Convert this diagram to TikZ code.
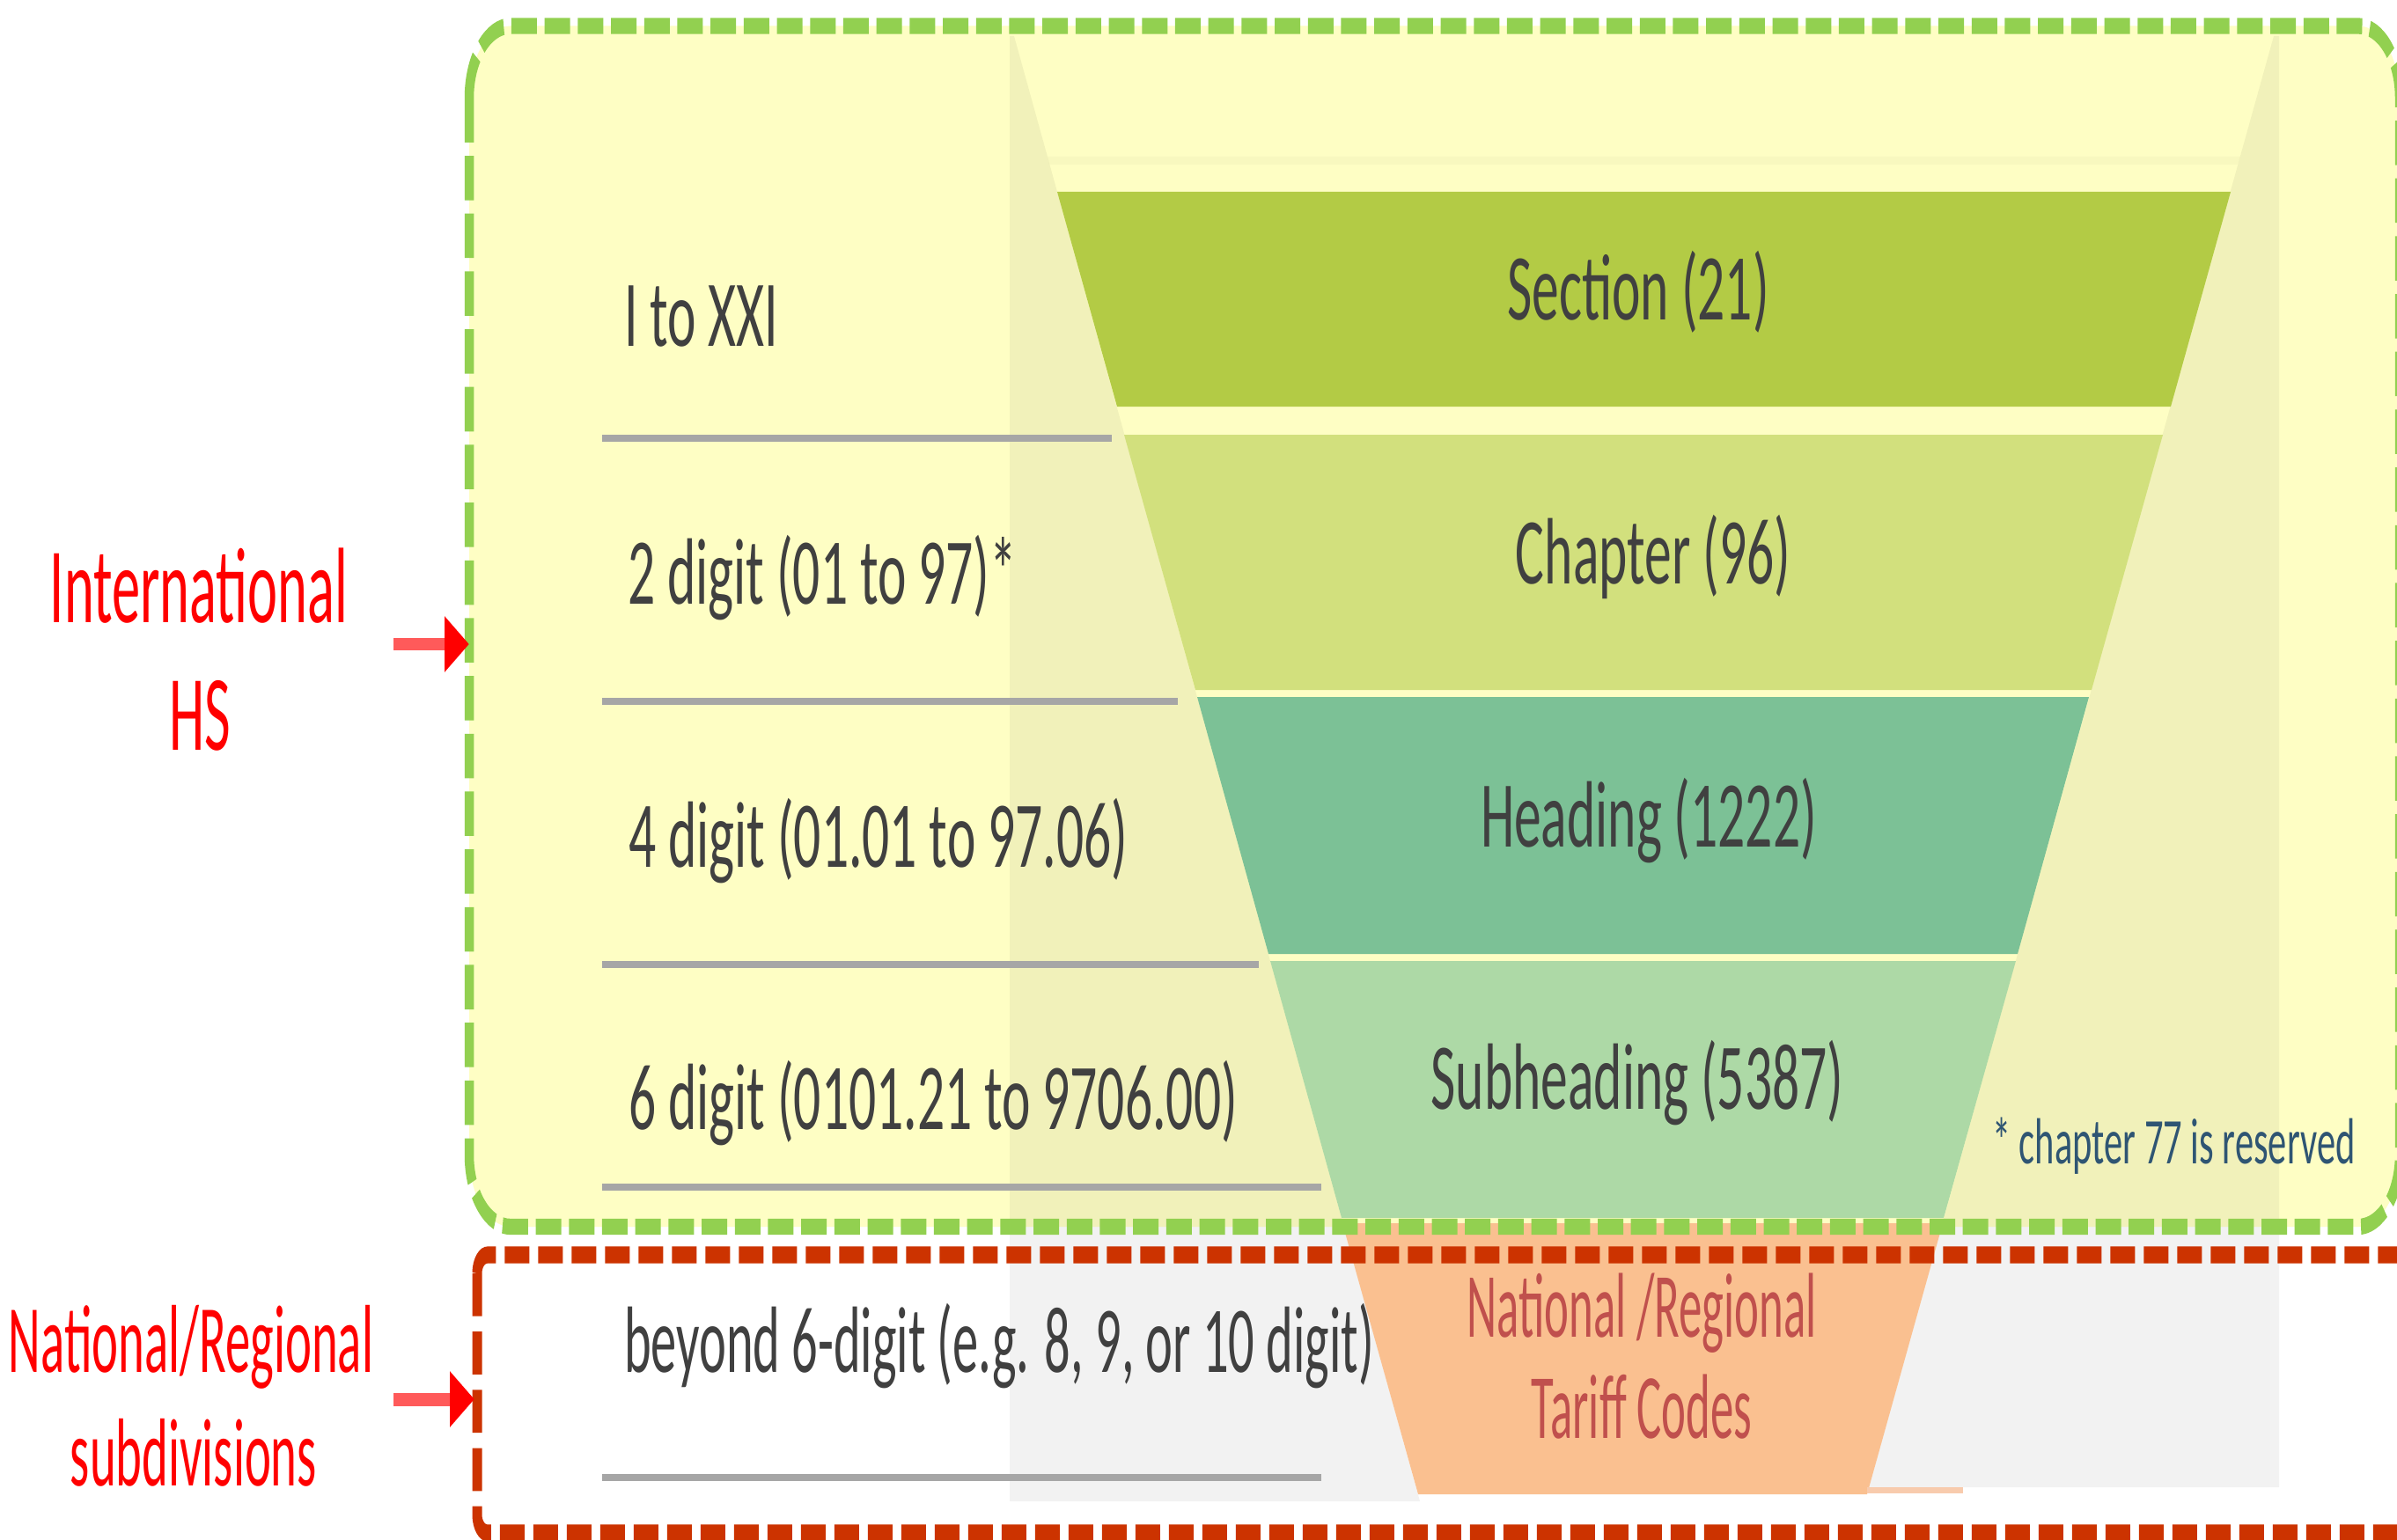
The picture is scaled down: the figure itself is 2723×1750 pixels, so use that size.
\documentclass[tikz,border=0pt]{standalone}
\usepackage{fontspec}
\setmainfont{Carlito}
\usetikzlibrary{arrows.meta}
\definecolor{boxyellow}{HTML}{FEFEC4}
\definecolor{boxgreen}{HTML}{92D050}
\definecolor{boxred}{HTML}{CC3300}
\definecolor{secC}{HTML}{B3CB45}
\definecolor{chapC}{HTML}{D2E07D}
\definecolor{headC}{HTML}{7CC196}
\definecolor{subC}{HTML}{ADD9A6}
\definecolor{natC}{HTML}{FAC090}
\definecolor{natLight}{HTML}{F8CBAD}
\definecolor{natText}{HTML}{C0504D}
\definecolor{darkText}{HTML}{404040}
\definecolor{ruleGray}{HTML}{A6A6A6}
\definecolor{noteC}{HTML}{2F5573}
\definecolor{shaftRed}{HTML}{FF5A5A}
\tikzset{
  lbl/.style={inner sep=0pt, text=darkText, font=\fontsize{61.5}{70}\selectfont},
  bandlbl/.style={inner sep=0pt, text=darkText, font=\fontsize{61.5}{70}\selectfont, anchor=base},
  redlbl/.style={inner sep=0pt, text=red, anchor=base},
  natlbl/.style={inner sep=0pt, text=natText, anchor=base, font=\fontsize{60}{68}\selectfont},
  rulebar/.style={draw=ruleGray, line width=4.6pt},
  shade/.style={fill=black, fill opacity=0.05},
  redarrow/.style={draw=shaftRed, line width=8.6pt, -{Triangle[length=28pt,width=34.5pt,color=red]}},
  greenbox/.style={draw=boxgreen, line width=10.5pt, dash pattern=on 29pt off 8.7pt, rounded corners=47pt},
  redbox/.style={draw=boxred, line width=11pt, dash pattern=on 28pt off 10pt, rounded corners=12pt}
}
\begin{document}
\begin{tikzpicture}[x=1pt,y=-1pt]
\useasboundingbox (0,0) rectangle (2723,1750);
\clip (0,0) rectangle (2723,1750);
\fill[white] (0,0) rectangle (2723,1750);
\begin{scope}[y=-0.574053pt, transform canvas={yscale=1.742}]
  % yellow box background
  \fill[boxyellow, rounded corners=47pt] (533,29.5) rectangle (2726,1394);
  % shadow wedges around the funnel
  \fill[shade] (1147,41) -- (1152,41) -- (1613,1706) -- (1147,1706) -- cycle;
  \fill[shade] (2583,41) -- (2589,41) -- (2589,1690) -- (2123,1690) -- cycle;
  \fill[black, fill opacity=0.025] (1190,178) -- (2545,178) -- (2542,187) -- (1192,187) -- cycle;
  % funnel bands
  \fill[secC]  (1201,218) -- (2534,218) -- (2466,462) -- (1269,462) -- cycle;
  \fill[chapC] (1277,494) -- (2457,494) -- (2376,784) -- (1358,784) -- cycle;
  \fill[headC] (1360,792) -- (2373,792) -- (2292,1084) -- (1441,1084) -- cycle;
  \fill[subC]  (1443,1092) -- (2290,1092) -- (2208,1384) -- (1524,1384) -- cycle;
  \fill[natC]  (1525,1390) -- (2207,1390) -- (2121,1698) -- (1611,1698) -- cycle;
  \fill[natLight] (2121,1690) rectangle (2230,1697);
  % dashed frames
  \draw[greenbox] (533,29.5) rectangle (2726,1394);
  \draw[redbox] (542,1426) rectangle (2760,1742);
  % grey rules
  \draw[rulebar] (684,498) -- (1263,498);
  \draw[rulebar] (684,797) -- (1338,797);
  \draw[rulebar] (684,1096) -- (1430,1096);
  \draw[rulebar] (684,1349) -- (1501,1349);
  \draw[rulebar] (684,1679) -- (1501,1679);
  % left column texts
  \node[lbl, anchor=base west] (lv1) at (709,393) {I to XXI};
  \node[lbl, anchor=base west] (lv2) at (713,686) {2 digit (01 to 97)*};
  \node[lbl, anchor=base west] (lv3) at (714,985) {4 digit (01.01 to 97.06)};
  \node[lbl, anchor=base west] (lv4) at (714,1283) {6 digit (0101.21 to 9706.00)};
  \node[lbl, anchor=base west] (lv5) at (709,1559) {\scalebox{0.95}[1]{beyond 6-digit (e.g. 8, 9, or 10 digit)}};
  % band texts
  \node[bandlbl] (sec) at (1861,363) {Section (21)};
  \node[bandlbl] (chap) at (1878,663) {Chapter (96)};
  \node[bandlbl] (head) at (1873,962) {Heading (1222)};
  \node[bandlbl] (subh) at (1860,1260) {Subheading (5387)};
  \node[natlbl] (nat1) at (1865,1519) {\scalebox{0.88}[1]{National /Regional}};
  \node[natlbl] (nat2) at (1865,1634) {\scalebox{0.88}[1]{Tariff Codes}};
  \node[inner sep=0pt, anchor=base west, text=noteC, font=\fontsize{42.5}{48}\selectfont] (note) at (2263,1322) {* chapter 77 is reserved};
  % red side labels
  \node[redlbl, font=\fontsize{70}{80}\selectfont] (intl) at (226,707) {\scalebox{0.92}[1]{International}};
  \node[redlbl, font=\fontsize{70}{80}\selectfont] (hs) at (227,852) {\scalebox{0.92}[1]{HS}};
  \node[redlbl, font=\fontsize{63}{72}\selectfont] (natreg) at (217,1559) {\scalebox{0.9}[1]{National/Regional}};
  \node[redlbl, font=\fontsize{63}{72}\selectfont] (subdiv) at (220,1688) {\scalebox{0.9}[1]{subdivisions}};
  % arrows
  \coordinate (a1s) at (447,732);
  \coordinate (a1e) at (533,732);
  \coordinate (a2s) at (447,1590);
  \coordinate (a2e) at (539,1590);
  \draw[redarrow] (a1s) -- (a1e);
  \draw[redarrow] (a2s) -- (a2e);
\end{scope}
\end{tikzpicture}
\end{document}
